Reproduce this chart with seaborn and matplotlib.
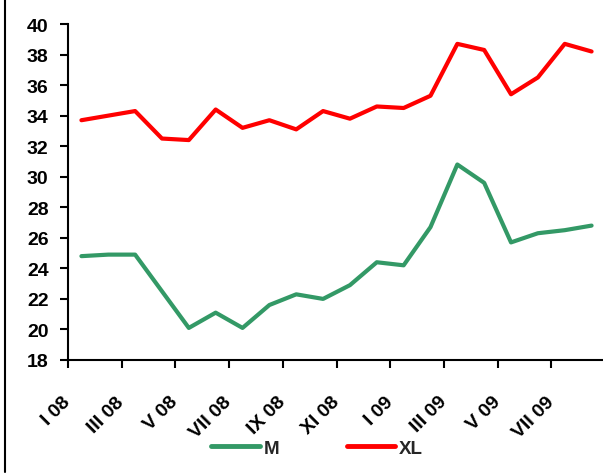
import matplotlib
matplotlib.use("Agg")
import matplotlib.pyplot as plt
import seaborn as sns
import pandas as pd
from matplotlib.lines import Line2D

# monthly categories, Jan 2008 - Aug 2009
months = ['I 08', 'II 08', 'III 08', 'IV 08', 'V 08', 'VI 08', 'VII 08', 'VIII 08',
          'IX 08', 'X 08', 'XI 08', 'XII 08', 'I 09', 'II 09', 'III 09', 'IV 09',
          'V 09', 'VI 09', 'VII 09', 'VIII 09']
m_values = [24.8, 24.9, 24.9, 22.5, 20.1, 21.1, 20.1, 21.6, 22.3, 22.0,
            22.9, 24.4, 24.2, 26.7, 30.8, 29.6, 25.7, 26.3, 26.5, 26.8]
xl_values = [33.7, 34.0, 34.3, 32.5, 32.4, 34.4, 33.2, 33.7, 33.1, 34.3,
             33.8, 34.6, 34.5, 35.3, 38.7, 38.3, 35.4, 36.5, 38.7, 38.2]
series_names = ['M', 'XL']
colors = {'M': '#339966', 'XL': '#FF0000'}
y_ticks = list(range(18, 41, 2))

df = pd.DataFrame({
    'idx': list(range(len(months))) * 2,
    'value': m_values + xl_values,
    'series': ['M'] * len(months) + ['XL'] * len(months),
})

sns.set_style("ticks")
plt.rcParams['font.family'] = ['Liberation Sans', 'DejaVu Sans']
plt.rcParams['font.weight'] = 'bold'
plt.rcParams['font.size'] = 14

fig = plt.figure(figsize=(6.03, 4.77), dpi=100)
ax = fig.add_axes([68 / 603, 1 - 361 / 477, (605 - 68) / 603, (361 - 25) / 477])

sns.lineplot(data=df, x='idx', y='value', hue='series', palette=colors,
             linewidth=3, ax=ax, legend=False)
for line in ax.lines:
    line.set_solid_capstyle('round')

ax.set_xlim(-0.5, len(months) - 0.5)
ax.set_ylim(18, 40)
ax.set_yticks(y_ticks)
ax.set_xticks([i - 0.5 for i in range(0, len(months), 2)])
ax.set_xticklabels(months[::2], rotation=45, ha='right', va='center',
                   rotation_mode='anchor', fontweight='bold')
ax.set_xlabel('')
ax.set_ylabel('')

sns.despine(ax=ax)
for s in ['left', 'bottom']:
    ax.spines[s].set_linewidth(1.5)
    ax.spines[s].set_color('black')
ax.tick_params(axis='both', direction='out', length=6, width=1.5, colors='black')
ax.tick_params(axis='y', pad=8)
ax.tick_params(axis='x', pad=22)

handles = [Line2D([], [], color=colors[n], lw=3.5, solid_capstyle='round') for n in series_names]
fig.legend(handles, series_names, loc='center', bbox_to_anchor=(0.526, 1 - 449 / 477),
           ncol=2, frameon=False, fontsize=13.5, handlelength=2.6, handletextpad=0.2,
           columnspacing=3.6)

# frame line at the left edge
fig.add_artist(Line2D([5 / 603, 5 / 603], [1 - 473 / 477, 1], color='black', lw=1.5,
                      transform=fig.transFigure))

fig.savefig('out.png', dpi=100)
